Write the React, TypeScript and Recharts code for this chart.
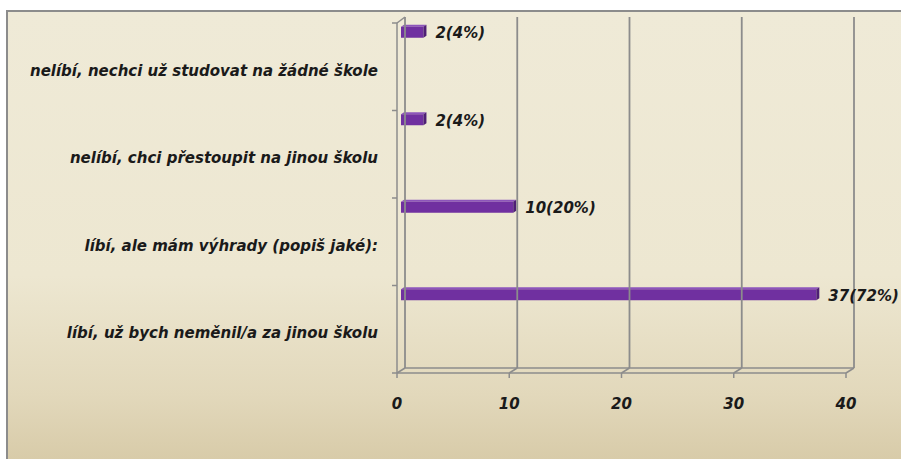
import { BarChart, Bar, XAxis, YAxis, LabelList } from 'recharts'

const categories = [
  'nelíbí, nechci už studovat na žádné škole',
  'nelíbí, chci přestoupit na jinou školu',
  'líbí, ale mám výhrady (popiš jaké):',
  'líbí, už bych neměnil/a za jinou školu',
]
const counts = [2, 2, 10, 37]
const percents = [4, 4, 20, 72]
const xTicks = [0, 10, 20, 30, 40]

const data = categories.map((name, i) => ({ name, value: counts[i] }))

const W = 901
const H = 459
const margin = { top: 23, right: 51, bottom: 56, left: 21 }
const Y_AXIS_W = 380
const X_AXIS_H = 30
const PLOT_H = H - margin.top - margin.bottom - X_AXIS_H
const BAND = PLOT_H / categories.length
const BAR_H = 11
const DX = 4 // half depth of the 3d floor
const DY = 5
const GRID = '#8c8c8c'
const font = { fontFamily: '"DejaVu Sans", sans-serif', fontWeight: 'bold' as const, fontStyle: 'italic' as const, fontSize: 15, fill: '#1a1a1a' }

function XTick(props: any) {
  const { x, y, width = 449, index, payload } = props
  const fx = x - DX
  const bx = x + DX
  return (
    <g>
      {index === 0 && (
        <>
          <line x1={fx} y1={y} x2={fx + width} y2={y} stroke={GRID} strokeWidth={1.5} />
          <line x1={bx} y1={y - DY} x2={bx + width} y2={y - DY} stroke={GRID} strokeWidth={1.5} />
        </>
      )}
      <line x1={bx} y1={margin.top - 6} x2={bx} y2={y - DY} stroke={GRID} strokeWidth={1.8} />
      <line x1={fx} y1={y} x2={bx} y2={y - DY} stroke={GRID} strokeWidth={1.5} />
      <line x1={fx} y1={y} x2={fx} y2={y + 5} stroke={GRID} strokeWidth={1.5} />
      <text x={fx} y={y + 36} textAnchor="middle" {...font}>
        {payload.value}
      </text>
    </g>
  )
}

function YTick(props: any) {
  const { x, y, index, payload, height = PLOT_H, visibleTicksCount = categories.length } = props
  const band = height / visibleTicksCount
  const top = y - band / 2
  const fx = x - DX
  return (
    <g>
      <line x1={fx - 5} y1={top} x2={fx} y2={top} stroke={GRID} strokeWidth={1.5} />
      {index === 0 && (
        <>
          <line x1={fx} y1={top} x2={fx} y2={top + height} stroke={GRID} strokeWidth={1.5} />
          <line x1={fx} y1={top} x2={fx + 2 * DX} y2={top - 6} stroke={GRID} strokeWidth={1.5} />
        </>
      )}
      {index === visibleTicksCount - 1 && (
        <line x1={fx - 5} y1={top + band} x2={fx} y2={top + band} stroke={GRID} strokeWidth={1.5} />
      )}
      <text x={x - 23} y={y + 9} textAnchor="end" {...font}>
        {payload.value}
      </text>
    </g>
  )
}

// bars sit at the top of their category band, like the Excel 3d bar
function Bar3D(props: any) {
  const { x, y, width, height } = props
  const top = y + height / 2 - BAND / 2 + 4
  const w = Math.max(width, 0)
  return (
    <g>
      <polygon points={`${x},${top} ${x + 3},${top - 2} ${x + w + 3},${top - 2} ${x + w},${top}`} fill="#8d55bb" />
      <rect x={x} y={top} width={w} height={BAR_H} fill="#7030a0" />
      <polygon points={`${x + w},${top} ${x + w + 3},${top - 2} ${x + w + 3},${top + BAR_H - 2} ${x + w},${top + BAR_H}`} fill="#4e1f75" />
    </g>
  )
}

function ValueLabel(props: any) {
  const { x, y, width, height, value, index } = props
  const top = y + height / 2 - BAND / 2 + 4
  return (
    <text x={x + width + 12} y={top + BAR_H / 2 + 6} {...font}>
      {`${value}(${percents[index]}%)`}
    </text>
  )
}

export default function App() {
  return (
    <div style={{ position: 'relative', width: W, height: H, overflow: 'hidden', background: '#fff' }}>
      <style>{`body{margin:0}`}</style>
      <div
        style={{
          position: 'absolute',
          left: 6,
          top: 10,
          width: W + 20,
          height: H + 20,
          borderLeft: `2px solid ${GRID}`,
          borderTop: `2px solid ${GRID}`,
          background: 'linear-gradient(to bottom, #efead7 0%, #ede7d1 55%, #e2d8bb 80%, #d3c5a0 100%)',
        }}
      />
      <div style={{ position: 'absolute', left: 0, top: 0 }}>
        <BarChart width={W} height={H} data={data} layout="vertical" margin={margin}>
          <XAxis
            type="number"
            domain={[0, 40]}
            ticks={xTicks}
            height={X_AXIS_H}
            axisLine={false}
            tickLine={false}
            tickSize={0}
            tickMargin={0}
            tick={<XTick />}
            interval={0}
          />
          <YAxis
            type="category"
            dataKey="name"
            width={Y_AXIS_W}
            axisLine={false}
            tickLine={false}
            tickSize={0}
            tickMargin={0}
            tick={<YTick />}
            interval={0}
          />
          <Bar dataKey="value" barSize={BAR_H} shape={<Bar3D />} isAnimationActive={false}>
            <LabelList dataKey="value" content={<ValueLabel />} />
          </Bar>
        </BarChart>
      </div>
    </div>
  )
}
